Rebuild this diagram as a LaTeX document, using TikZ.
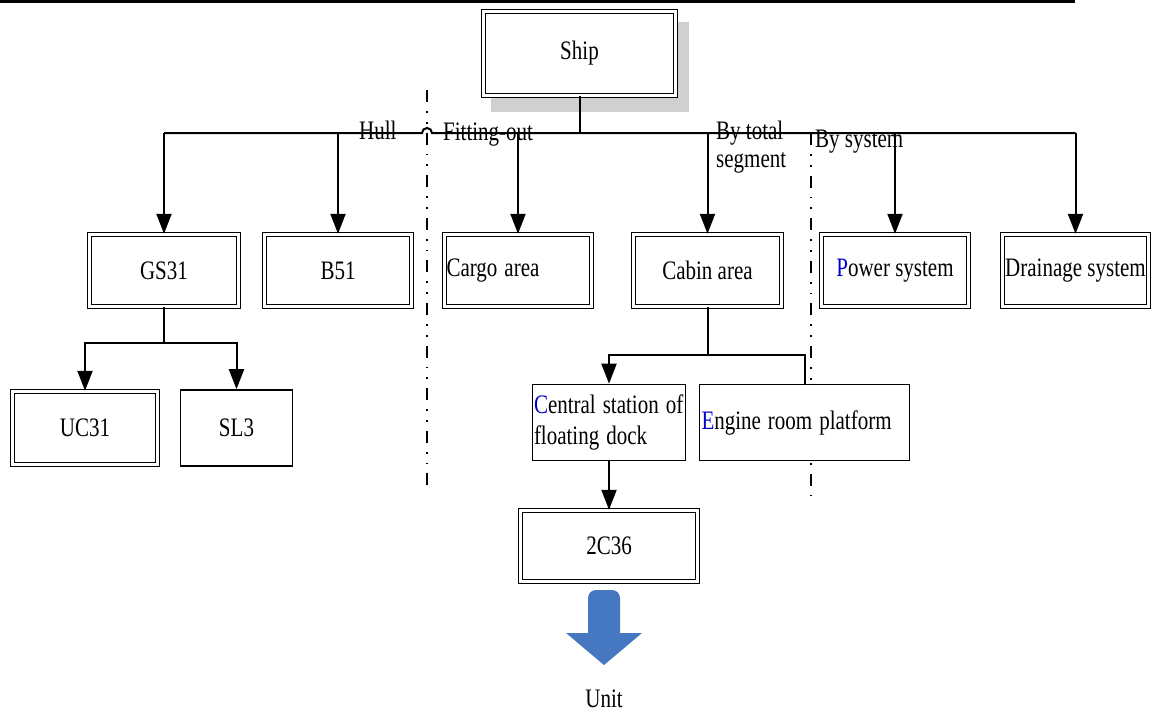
\documentclass[tikz,border=0pt]{standalone}
\usepackage{fontspec}
\setmainfont{Liberation Serif}
\usepackage{graphicx}
\usetikzlibrary{arrows.meta,calc}
\definecolor{lblue}{RGB}{0,0,204}
\definecolor{arrblue}{RGB}{70,120,194}
\definecolor{shadowgray}{RGB}{208,208,208}
\newcommand\vs[1]{\scalebox{1}[1.27]{#1}}
\begin{document}
\begin{tikzpicture}[x=1pt,y=-1pt,
  every node/.style={font=\fontsize{21}{31}\selectfont, inner sep=0pt},
  dbox/.style={draw=black, line width=1.4pt, double=white, double distance=2.2pt, fill=white},
  sbox/.style={draw=black, line width=1.6pt, fill=white},
  conn/.style={line width=2pt},
  arr/.style={conn, -{Triangle[width=15pt,length=20pt]}},
  sepline/.style={line width=1.7pt, dash pattern=on 12pt off 9pt on 1.8pt off 9pt on 1.8pt off 9pt}]
\useasboundingbox (0,0) rectangle (1154,715);
% top rule
\draw[line width=2.6pt] (0,1.3) -- (1075,1.3);
% separators
\draw[sepline] (427,90) -- (427,487);
\draw[sepline] (811,133) -- (811,495);
% shadow
\fill[shadowgray] (491,22) rectangle (689,112);
% nodes
\node[dbox, minimum width=192pt, minimum height=84pt] (ship) at (579.5,53.5) {\vs{Ship}};
\node[dbox, minimum width=149pt, minimum height=72pt] (gs) at (164,270.5) {\vs{GS31}};
\node[dbox, minimum width=147pt, minimum height=72pt] (b51) at (338,270.5) {\vs{B51}};
\node[dbox, minimum width=147pt, minimum height=72pt, text width=143pt, align=left] (cargo) at (518,270.5) {\vs{Cargo area}};
\node[dbox, minimum width=148pt, minimum height=72pt] (cabin) at (707.5,270.5) {\vs{Cabin area}};
\node[dbox, minimum width=147pt, minimum height=72pt] (power) at (895,270.5) {\vs{\textcolor{lblue}{P}ower system}};
\node[dbox, minimum width=146pt, minimum height=72pt] (drain) at (1075.5,270.5) {\vs{Drainage system}};
\node[dbox, minimum width=145pt, minimum height=73pt] (uc) at (85,428) {\vs{UC31}};
\node[sbox, minimum width=112pt, minimum height=76pt] (sl) at (236.5,428) {\vs{SL3}};
\node[sbox, minimum width=153pt, minimum height=76pt, text width=150pt, align=left] (central) at (609,422.5)
  {\vs{\textcolor{lblue}{C}entral station of}\\\vs{floating dock}};
\node[sbox, minimum width=210pt, minimum height=76pt, text width=206pt, align=left] (engine) at (804.5,422.5)
  {\vs{\textcolor{lblue}{E}ngine room platform}};
\node[dbox, minimum width=177pt, minimum height=71pt] (c36) at (609,546) {\vs{2C36}};
% labels
\node[anchor=base west] (hull) at (359,139) {\vs{Hull}};
\node[anchor=base west] (fit) at (443,140) {\vs{Fitting-out}};
\node[anchor=base west] (tot1) at (716,139) {\vs{By total}};
\node[anchor=base west] (tot2) at (716,167) {\vs{segment}};
\node[anchor=base west] (bysys) at (815,147) {\vs{By system}};
\node[anchor=base] (unit) at (604,707) {\vs{Unit}};
% bus
\coordinate (bus) at (579.5,133);
\draw[conn] (ship.south) -- (bus);
\draw[conn] (gs.north |- bus) -- (422,133) arc[start angle=180,end angle=0,radius=5pt] -- (drain.north |- bus);
\foreach \n in {gs,b51,cargo,cabin,power,drain}
  \draw[arr] (\n.north |- bus) -- (\n.north);
% GS31 children
\coordinate (gsj) at (164,343);
\draw[arr] (gs.south) -- (gsj) -| (uc.north);
\draw[arr] (gsj) -| (sl.north);
% Cabin children
\coordinate (cj) at (707.5,355);
\draw[arr] (cabin.south) -- (cj) -| (central.north);
\draw[conn] (cj) -| (engine.north);
\draw[arr] (central.south) -- (c36.north);
% blue arrow
\fill[arrblue] (604,665) -- (566,633) -- (588,633) -- (588,598)
  arc[start angle=180,end angle=90,radius=8pt] -- (612,590)
  arc[start angle=90,end angle=0,radius=8pt] -- (620,633) -- (642,633) -- cycle;
\end{tikzpicture}
\end{document}
